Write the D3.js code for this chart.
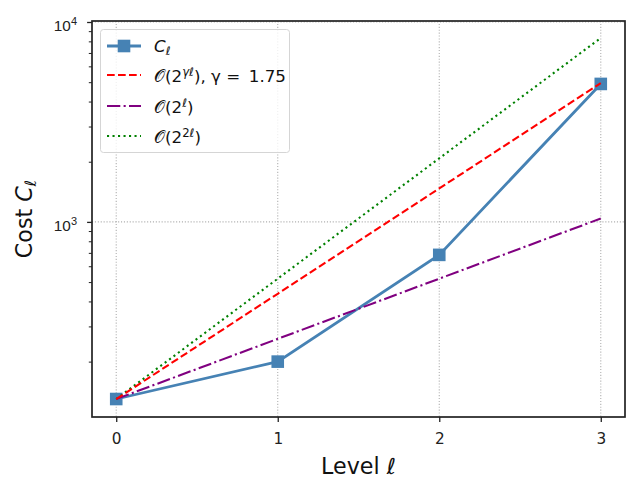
<!DOCTYPE html>
<html>
<head>
<meta charset="utf-8">
<script src="https://cdn.jsdelivr.net/npm/d3@7"></script>
<style>
  body { margin: 0; background: #fff; }
  svg { font-family: "DejaVu Sans", sans-serif; }
</style>
</head>
<body>
<svg width="640" height="493"></svg>
<script>
// levels and measured cost per level
const levels = [0, 1, 2, 3];
const cost = [130, 200, 684, 4900];
// reference rates
const gammaRef = [130, 437, 1471, 4946];
const linRef = [130, 260, 520, 1040];
const quadRef = [130, 520, 2080, 8320];
const xTicks = [0, 1, 2, 3];
const yMajor = [1000, 10000];
const yMinor = [200, 300, 400, 500, 600, 700, 800, 900,
                2000, 3000, 4000, 5000, 6000, 7000, 8000, 9000];

const svg = d3.select('svg');
const axL = 92, axR = 625, axT = 21, axB = 417;
const tickFs = 15.3, legFs = 16.7, labFs = 22.2;

const x = d3.scaleLinear().domain([-0.15, 3.15]).range([axL, axR]);
const y = d3.scaleLog().domain([Math.pow(10, 2.024), Math.pow(10, 4.005)]).range([axB, axT]);

// grid lines (dotted)
const grid = svg.append('g');
grid.selectAll('line.gx').data(xTicks).enter().append('line')
  .attr('x1', d => x(d)).attr('x2', d => x(d))
  .attr('y1', axT).attr('y2', axB)
  .attr('stroke', '#b0b0b0').attr('stroke-width', 1.1).attr('stroke-dasharray', '1.1,1.8');
grid.selectAll('line.gy').data(yMajor).enter().append('line')
  .attr('x1', axL).attr('x2', axR)
  .attr('y1', d => y(d)).attr('y2', d => y(d))
  .attr('stroke', '#b0b0b0').attr('stroke-width', 1.1).attr('stroke-dasharray', '1.1,1.8');

// line styles like matplotlib at 100 dpi
const DASH = '7.7,3.3', DASHDOT = '13.3,3.3,2.1,3.3', DOT = '2.1,3.4';
const line = d3.line().x((d, i) => x(levels[i])).y(d => y(d));
const series = [
  {vals: quadRef, color: 'green', dash: DOT},
  {vals: linRef, color: 'purple', dash: DASHDOT},
  {vals: gammaRef, color: 'red', dash: DASH},
];
const plot = svg.append('g');
plot.append('path').datum(cost).attr('d', line)
  .attr('fill', 'none').attr('stroke', 'steelblue').attr('stroke-width', 2.78);
plot.selectAll('rect.mk').data(cost).enter().append('rect')
  .attr('x', (d, i) => x(levels[i]) - 6.3).attr('y', d => y(d) - 6.3)
  .attr('width', 12.6).attr('height', 12.6).attr('fill', 'steelblue');
series.forEach(s => {
  plot.append('path').datum(s.vals).attr('d', line)
    .attr('fill', 'none').attr('stroke', s.color)
    .attr('stroke-width', 2.08).attr('stroke-dasharray', s.dash);
});

// x axis
const xAxis = d3.axisBottom(x).tickValues(xTicks).tickSize(4.9).tickFormat(d3.format('d'));
const gx = svg.append('g').attr('transform', `translate(0,${axB})`).call(xAxis);
gx.select('.domain').remove();
gx.selectAll('line').attr('stroke', '#222').attr('stroke-width', 1.3);
gx.selectAll('text').attr('y', 27).attr('dy', null)
  .attr('font-size', tickFs).attr('fill', '#222').attr('font-family', 'DejaVu Sans');

// y axis (log) with minor ticks
const gy = svg.append('g').attr('transform', `translate(${axL},0)`);
gy.call(d3.axisLeft(y).tickValues(yMinor).tickSize(3.2).tickFormat(''));
gy.select('.domain').remove();
gy.selectAll('line').attr('stroke', '#222').attr('stroke-width', 1);
const gyMaj = svg.append('g').attr('transform', `translate(${axL},0)`)
  .call(d3.axisLeft(y).tickValues(yMajor).tickSize(4.9).tickFormat(''));
gyMaj.select('.domain').remove();
gyMaj.selectAll('line').attr('stroke', '#222').attr('stroke-width', 1.3);
gyMaj.selectAll('.tick').each(function(d) {
  const t = d3.select(this).append('text')
    .attr('x', -15).attr('y', 9).attr('text-anchor', 'end')
    .attr('font-size', tickFs).attr('fill', '#222');
  t.append('tspan').text('10');
  t.append('tspan').attr('dy', -6).attr('font-size', 11).text(Math.round(Math.log10(d)));
});

// frame
svg.append('rect').attr('x', axL).attr('y', axT)
  .attr('width', axR - axL).attr('height', axB - axT)
  .attr('fill', 'none').attr('stroke', '#222').attr('stroke-width', 1.7);

// axis labels
const xl = svg.append('text').attr('x', (axL + axR) / 2).attr('y', 473.5)
  .attr('text-anchor', 'middle').attr('font-size', labFs).attr('fill', '#111');
xl.append('tspan').text('Level ');
xl.append('tspan').attr('font-style', 'italic').text('ℓ');

const yl = svg.append('text')
  .attr('transform', `translate(32,${(axT + axB) / 2}) rotate(-90)`)
  .attr('text-anchor', 'middle').attr('font-size', labFs).attr('fill', '#111');
yl.append('tspan').text('Cost ');
yl.append('tspan').attr('font-style', 'italic').text('C');
yl.append('tspan').attr('font-style', 'italic').attr('font-size', 15.5).attr('dy', 4).text('ℓ');

// legend
const leg = svg.append('g');
leg.append('rect').attr('x', 100.5).attr('y', 29.5).attr('width', 189).attr('height', 123)
  .attr('rx', 3).attr('fill', 'white').attr('fill-opacity', 0.8)
  .attr('stroke', '#d5d5d5').attr('stroke-width', 1);
const legRows = [
  {y: 46, color: 'steelblue', dash: null, w: 2.78, marker: true},
  {y: 75, color: 'red', dash: DASH, w: 2.08},
  {y: 106, color: 'purple', dash: DASHDOT, w: 2.08},
  {y: 136, color: 'green', dash: DOT, w: 2.08},
];
legRows.forEach(r => {
  leg.append('line').attr('x1', 107).attr('x2', 141).attr('y1', r.y).attr('y2', r.y)
    .attr('stroke', r.color).attr('stroke-width', r.w).attr('stroke-dasharray', r.dash);
  if (r.marker) {
    leg.append('rect').attr('x', 124 - 6.3).attr('y', r.y - 6.3).attr('width', 12.6).attr('height', 12.6)
      .attr('fill', r.color);
  }
});
const supFs = 11.7;
function legText(yy) {
  return leg.append('text').attr('x', 154).attr('y', yy).attr('font-size', legFs).attr('fill', '#111');
}
let t = legText(51.5);
t.append('tspan').attr('font-style', 'italic').text('C');
t.append('tspan').attr('font-style', 'italic').attr('font-size', supFs).attr('dy', 3).text('ℓ');

t = legText(81.7);
t.append('tspan').text('𝒪(2');
t.append('tspan').attr('font-style', 'italic').attr('font-size', supFs).attr('dy', -6).text('γℓ');
t.append('tspan').attr('dy', 6).text('), γ = \u20091.75');

t = legText(112.5);
t.append('tspan').text('𝒪(2');
t.append('tspan').attr('font-style', 'italic').attr('font-size', supFs).attr('dy', -6).text('ℓ');
t.append('tspan').attr('dy', 6).text(')');

t = legText(143);
t.append('tspan').text('𝒪(2');
t.append('tspan').attr('font-size', supFs).attr('dy', -6).text('2');
t.append('tspan').attr('font-style', 'italic').attr('font-size', supFs).text('ℓ');
t.append('tspan').attr('dy', 6).text(')');
</script>
</body>
</html>
